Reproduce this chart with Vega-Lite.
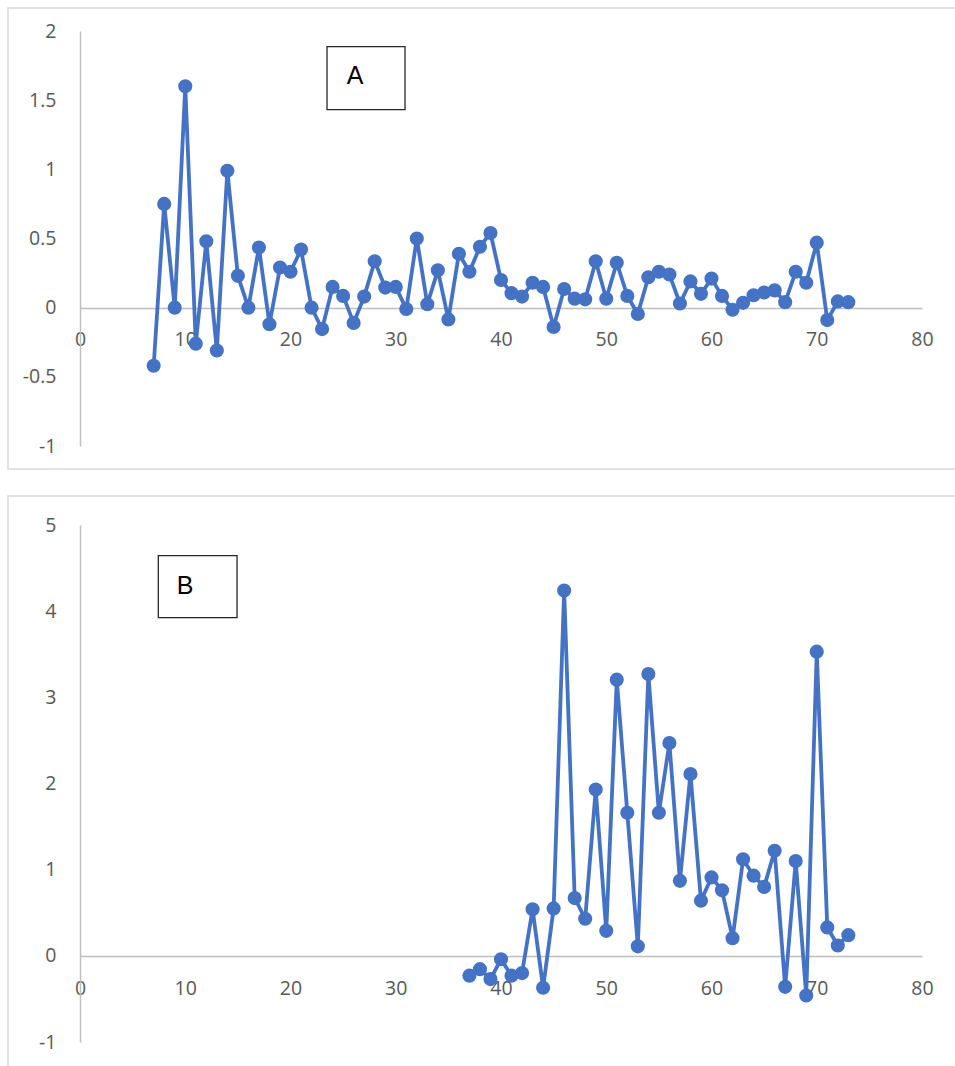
{
  "$schema": "https://vega.github.io/schema/vega-lite/v6.json",
  "padding": {"left": 7, "top": 7, "right": 0, "bottom": 0},
  "spacing": 25,
  "datasets": {
    "a": [
      {"x": 7, "v": -0.42}, {"x": 8, "v": 0.75}, {"x": 9, "v": 0.0}, {"x": 10, "v": 1.6},
      {"x": 11, "v": -0.26}, {"x": 12, "v": 0.48}, {"x": 13, "v": -0.31}, {"x": 14, "v": 0.99},
      {"x": 15, "v": 0.23}, {"x": 16, "v": 0.0}, {"x": 17, "v": 0.435}, {"x": 18, "v": -0.12},
      {"x": 19, "v": 0.29}, {"x": 20, "v": 0.26}, {"x": 21, "v": 0.42}, {"x": 22, "v": 0.0},
      {"x": 23, "v": -0.155}, {"x": 24, "v": 0.15}, {"x": 25, "v": 0.085}, {"x": 26, "v": -0.11},
      {"x": 27, "v": 0.08}, {"x": 28, "v": 0.335}, {"x": 29, "v": 0.145}, {"x": 30, "v": 0.15},
      {"x": 31, "v": -0.01}, {"x": 32, "v": 0.5}, {"x": 33, "v": 0.025}, {"x": 34, "v": 0.27},
      {"x": 35, "v": -0.085}, {"x": 36, "v": 0.39}, {"x": 37, "v": 0.26}, {"x": 38, "v": 0.44},
      {"x": 39, "v": 0.54}, {"x": 40, "v": 0.2}, {"x": 41, "v": 0.105}, {"x": 42, "v": 0.08},
      {"x": 43, "v": 0.18}, {"x": 44, "v": 0.15}, {"x": 45, "v": -0.14}, {"x": 46, "v": 0.135},
      {"x": 47, "v": 0.065}, {"x": 48, "v": 0.06}, {"x": 49, "v": 0.335}, {"x": 50, "v": 0.065},
      {"x": 51, "v": 0.325}, {"x": 52, "v": 0.085}, {"x": 53, "v": -0.045}, {"x": 54, "v": 0.22},
      {"x": 55, "v": 0.26}, {"x": 56, "v": 0.24}, {"x": 57, "v": 0.03}, {"x": 58, "v": 0.19},
      {"x": 59, "v": 0.1}, {"x": 60, "v": 0.21}, {"x": 61, "v": 0.085}, {"x": 62, "v": -0.015},
      {"x": 63, "v": 0.035}, {"x": 64, "v": 0.09}, {"x": 65, "v": 0.11}, {"x": 66, "v": 0.125},
      {"x": 67, "v": 0.04}, {"x": 68, "v": 0.26}, {"x": 69, "v": 0.18}, {"x": 70, "v": 0.47},
      {"x": 71, "v": -0.09}, {"x": 72, "v": 0.045}, {"x": 73, "v": 0.04}
    ],
    "b": [
      {"x": 37, "v": -0.23}, {"x": 38, "v": -0.155}, {"x": 39, "v": -0.27}, {"x": 40, "v": -0.04},
      {"x": 41, "v": -0.23}, {"x": 42, "v": -0.2}, {"x": 43, "v": 0.54}, {"x": 44, "v": -0.37},
      {"x": 45, "v": 0.55}, {"x": 46, "v": 4.24}, {"x": 47, "v": 0.67}, {"x": 48, "v": 0.43},
      {"x": 49, "v": 1.93}, {"x": 50, "v": 0.29}, {"x": 51, "v": 3.205}, {"x": 52, "v": 1.66},
      {"x": 53, "v": 0.11}, {"x": 54, "v": 3.27}, {"x": 55, "v": 1.66}, {"x": 56, "v": 2.47},
      {"x": 57, "v": 0.87}, {"x": 58, "v": 2.11}, {"x": 59, "v": 0.64}, {"x": 60, "v": 0.91},
      {"x": 61, "v": 0.76}, {"x": 62, "v": 0.205}, {"x": 63, "v": 1.12}, {"x": 64, "v": 0.93},
      {"x": 65, "v": 0.8}, {"x": 66, "v": 1.22}, {"x": 67, "v": -0.36}, {"x": 68, "v": 1.1},
      {"x": 69, "v": -0.46}, {"x": 70, "v": 3.53}, {"x": 71, "v": 0.33}, {"x": 72, "v": 0.12},
      {"x": 73, "v": 0.24}
    ],
    "annA": [{"x": 23.47, "x2": 30.88, "y": 1.887, "y2": 1.431, "label": "A", "lx": 26.13, "ly": 1.674}],
    "annB": [{"x": 7.44, "x2": 14.92, "y": 4.645, "y2": 3.926, "label": "B", "lx": 9.98, "ly": 4.294}]
  },
  "vconcat": [
    {
      "width": 950,
      "height": 461,
      "layer": [
        {
          "data": {"name": "a"},
          "mark": {"type": "line", "color": "#4472C4", "strokeWidth": 3.8, "point": {"filled": true, "size": 200, "color": "#4472C4", "opacity": 1}},
          "encoding": {
            "x": {"field": "x", "type": "quantitative", "scale": {"domain": [0, 80], "range": [72, 914], "nice": false, "zero": false},
                  "axis": {"orient": "bottom", "offset": -161, "values": [0, 10, 20, 30, 40, 50, 60, 70, 80], "labelPadding": 22, "title": null}},
            "y": {"field": "v", "type": "quantitative", "scale": {"domain": [-1, 2], "range": [438, 23], "nice": false, "zero": false},
                  "axis": {"orient": "left", "offset": -72, "values": [-1, -0.5, 0, 0.5, 1, 1.5, 2], "format": "~g", "labelPadding": 24, "title": null}}
          }
        },
        {
          "data": {"name": "annA"},
          "mark": {"type": "rect", "fill": "white", "stroke": "#262626", "strokeWidth": 1.3},
          "encoding": {
            "x": {"field": "x", "type": "quantitative"},
            "x2": {"field": "x2"},
            "y": {"field": "y", "type": "quantitative"},
            "y2": {"field": "y2"}
          }
        },
        {
          "data": {"name": "annA"},
          "mark": {"type": "text", "font": "Liberation Sans", "fontSize": 25, "color": "black", "align": "center", "baseline": "middle"},
          "encoding": {
            "x": {"field": "lx", "type": "quantitative"},
            "y": {"field": "ly", "type": "quantitative"},
            "text": {"field": "label"}
          }
        }
      ]
    },
    {
      "width": 950,
      "height": 575,
      "layer": [
        {
          "data": {"name": "b"},
          "mark": {"type": "line", "color": "#4472C4", "strokeWidth": 3.8, "point": {"filled": true, "size": 200, "color": "#4472C4", "opacity": 1}},
          "encoding": {
            "x": {"field": "x", "type": "quantitative", "scale": {"domain": [0, 80], "range": [72, 914], "nice": false, "zero": false},
                  "axis": {"orient": "bottom", "offset": -115, "values": [0, 10, 20, 30, 40, 50, 60, 70, 80], "labelPadding": 23, "title": null}},
            "y": {"field": "v", "type": "quantitative", "scale": {"domain": [-1, 5], "range": [546, 29], "nice": false, "zero": false},
                  "axis": {"orient": "left", "offset": -72, "values": [-1, 0, 1, 2, 3, 4, 5], "format": "~g", "labelPadding": 24, "title": null}}
          }
        },
        {
          "data": {"name": "annB"},
          "mark": {"type": "rect", "fill": "white", "stroke": "#262626", "strokeWidth": 1.3},
          "encoding": {
            "x": {"field": "x", "type": "quantitative"},
            "x2": {"field": "x2"},
            "y": {"field": "y", "type": "quantitative"},
            "y2": {"field": "y2"}
          }
        },
        {
          "data": {"name": "annB"},
          "mark": {"type": "text", "font": "Liberation Sans", "fontSize": 25, "color": "black", "align": "center", "baseline": "middle"},
          "encoding": {
            "x": {"field": "lx", "type": "quantitative"},
            "y": {"field": "ly", "type": "quantitative"},
            "text": {"field": "label"}
          }
        }
      ]
    }
  ],
  "config": {
    "locale": {"number": {"decimal": ".", "thousands": ",", "grouping": [3], "currency": ["$", ""], "minus": "-"}},
    "view": {"stroke": "#d9d9d9", "strokeWidth": 1.5},
    "axis": {
      "grid": false, "ticks": false, "tickSize": 0,
      "domainColor": "#bfbfbf", "domainWidth": 1.5,
      "labelFont": "Open Sans", "labelFontSize": 19.5, "labelColor": "#595959",
      "labelFlush": false, "labelOverlap": false, "labelBound": false
    }
  }
}
